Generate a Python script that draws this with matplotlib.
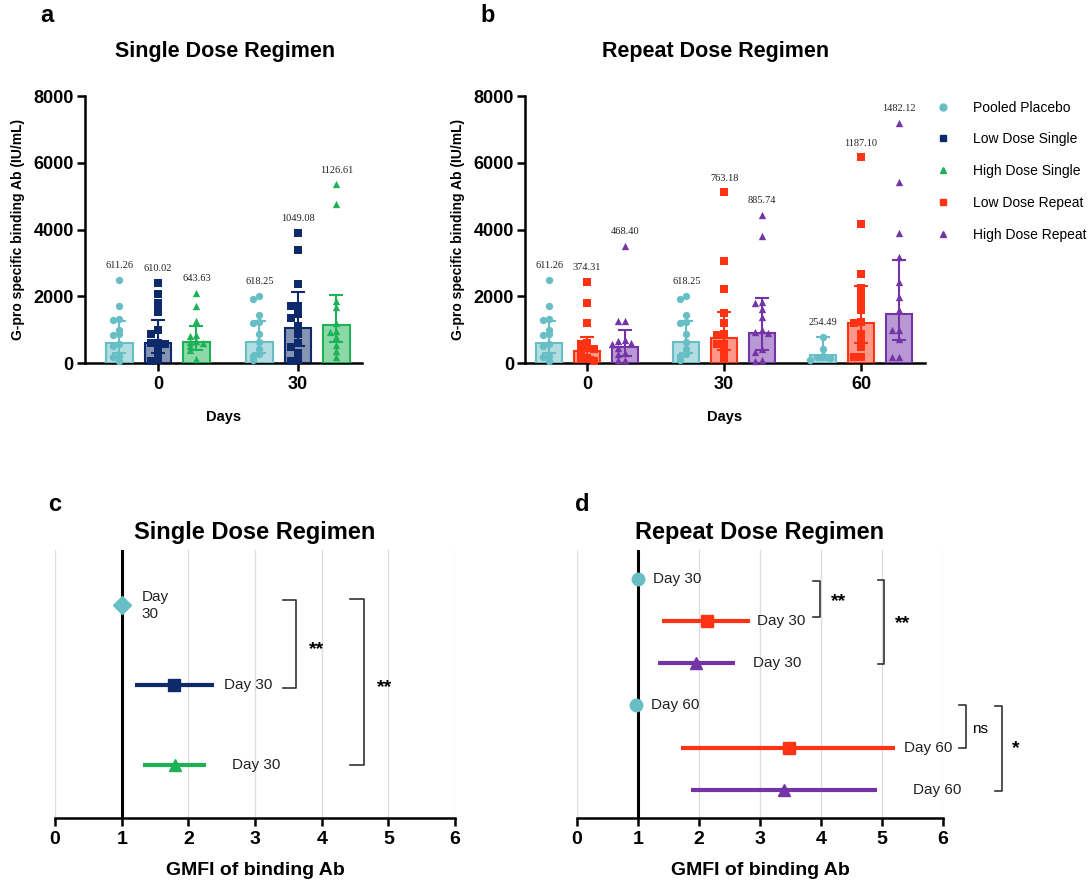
import numpy as np
import matplotlib.pyplot as plt
from matplotlib.lines import Line2D

plt.rcParams['font.family'] = ['Liberation Sans', 'DejaVu Sans']

# ---------------------------------------------------------------------------
# Data
# ---------------------------------------------------------------------------
group_names = ['Pooled Placebo', 'Low Dose Single', 'High Dose Single',
               'Low Dose Repeat', 'High Dose Repeat']
group_colors = {
    'Pooled Placebo': '#67BFC5',
    'Low Dose Single': '#0F2A6B',
    'High Dose Single': '#1DB255',
    'Low Dose Repeat': '#FF3314',
    'High Dose Repeat': '#7434A8',
}
group_markers = {
    'Pooled Placebo': 'o',
    'Low Dose Single': 's',
    'High Dose Single': '^',
    'Low Dose Repeat': 's',
    'High Dose Repeat': '^',
}

# individual values (IU/mL)
placebo_d0 = [2500, 1720, 1310, 1290, 1000, 860, 840, 560, 520, 220, 180, 50]
placebo_d30 = [2000, 1930, 1450, 1240, 1200, 860, 620, 430, 280, 200, 80]
placebo_d60 = [790, 430, 200, 180, 160, 80]
low_single_d0 = [2400, 2080, 1800, 1660, 1530, 1000, 880, 600, 590, 580, 420, 240, 90, 50]
low_single_d30 = [3900, 3380, 2360, 1720, 1700, 1460, 1340, 1110, 880, 600, 480, 300, 100, 60]
high_single_d0 = [2100, 1720, 1270, 850, 820, 650, 640, 600, 500, 400, 120]
high_single_d30 = [5350, 4760, 1870, 1680, 1200, 960, 940, 780, 530, 360, 180]
low_repeat_d0 = [2440, 1790, 1190, 600, 580, 450, 440, 420, 300, 280, 150, 130, 60]
low_repeat_d30 = [5110, 3050, 2210, 1500, 1200, 860, 840, 580, 560, 430, 280, 130]
low_repeat_d60 = [6160, 4160, 2680, 2250, 2030, 1830, 1600, 1230, 1200, 880, 720, 480, 190, 170]
high_repeat_d0 = [3520, 1260, 1250, 680, 660, 600, 560, 450, 300, 280, 100, 80]
high_repeat_d30 = [4450, 3800, 1830, 1800, 1630, 1380, 1000, 920, 900, 410, 320, 80, 70]
high_repeat_d60 = [7200, 5430, 3900, 3180, 2430, 1980, 1600, 1000, 990, 720, 190, 170]

# geometric means shown as bars + labels, and error-bar limits
single_days = ['0', '30']
single_groups = ['Pooled Placebo', 'Low Dose Single', 'High Dose Single']
single_points = [[placebo_d0, low_single_d0, high_single_d0],
                 [placebo_d30, low_single_d30, high_single_d30]]
single_gmt = [[611.26, 610.02, 643.63], [618.25, 1049.08, 1126.61]]
single_err_hi = [[1270, 1280, 1100], [1250, 2120, 2040]]
single_err_lo = [[300, 300, 380], [300, 520, 620]]

repeat_days = ['0', '30', '60']
repeat_groups = ['Pooled Placebo', 'Low Dose Repeat', 'High Dose Repeat']
repeat_points = [[placebo_d0, low_repeat_d0, high_repeat_d0],
                 [placebo_d30, low_repeat_d30, high_repeat_d30],
                 [placebo_d60, low_repeat_d60, high_repeat_d60]]
repeat_gmt = [[611.26, 374.31, 468.40], [618.25, 763.18, 885.74],
              [254.49, 1187.10, 1482.12]]
repeat_err_hi = [[1270, 780, 980], [1250, 1540, 1950], [770, 2320, 3080]]
repeat_err_lo = [[300, 180, 220], [300, 380, 400], [80, 600, 680]]

# GMFI forest data
single_gmfi_groups = ['Pooled Placebo', 'Low Dose Single', 'High Dose Single']
single_gmfi = [1.0, 1.78, 1.80]
single_gmfi_lo = [1.0, 1.20, 1.32]
single_gmfi_hi = [1.0, 2.38, 2.27]
single_gmfi_text = ['Day\n30', 'Day 30', 'Day 30']

repeat_gmfi_groups = ['Pooled Placebo', 'Low Dose Repeat', 'High Dose Repeat',
                      'Pooled Placebo', 'Low Dose Repeat', 'High Dose Repeat']
repeat_gmfi = [1.0, 2.13, 1.95, 0.96, 3.47, 3.39]
repeat_gmfi_lo = [1.0, 1.40, 1.32, 0.96, 1.71, 1.87]
repeat_gmfi_hi = [1.0, 2.84, 2.59, 0.96, 5.22, 4.92]
repeat_gmfi_text = ['Day 30', 'Day 30', 'Day 30', 'Day 60', 'Day 60', 'Day 60']

# ---------------------------------------------------------------------------
fig = plt.figure(figsize=(10.92, 8.85), dpi=100)

OFFSET = 0.275
BAR_W = 0.19


def swarm_offsets(vals, step=0.048, gap=130):
    # spread points that sit close together, like a small beeswarm
    offs = []
    placed = []
    pattern = [0, -1, 1, -2, 2, -2, 2]
    for v in vals:
        k = sum(1 for p in placed if abs(p - v) < gap)
        offs.append(pattern[min(k, len(pattern) - 1)] * step)
        placed.append(v)
    return offs


def bar_panel(ax, days, groups, points, gmt, err_hi, err_lo):
    for d in range(len(days)):
        for g, name in enumerate(groups):
            c = group_colors[name]
            x = d + (g - 1) * OFFSET
            ax.bar(x, gmt[d][g], width=BAR_W, color=c, alpha=0.5,
                   edgecolor='none', zorder=2)
            ax.bar(x, gmt[d][g], width=BAR_W, facecolor='none',
                   edgecolor=c, linewidth=1.5, zorder=3)
            ax.errorbar(x, gmt[d][g],
                        yerr=[[gmt[d][g] - err_lo[d][g]], [err_hi[d][g] - gmt[d][g]]],
                        color=c, capsize=5, elinewidth=1.5, capthick=1.5,
                        fmt='none', zorder=4)
            vals = points[d][g]
            offs = swarm_offsets(vals)
            ax.scatter(x + np.array(offs), vals, s=28, color=c,
                       marker=group_markers[name], zorder=5, clip_on=False,
                       linewidths=0)
            ax.text(x, max(vals) + 430, f'{gmt[d][g]:.2f}', ha='center',
                    va='center', fontsize=7.5, family='Liberation Serif',
                    color='#222222')
    ax.set_ylim(0, 8000)
    ax.set_yticks([0, 2000, 4000, 6000, 8000])
    ax.set_xticks(range(len(days)))
    ax.set_xticklabels(days)
    for s in ['top', 'right']:
        ax.spines[s].set_visible(False)
    for s in ['left', 'bottom']:
        ax.spines[s].set_linewidth(1.8)
    ax.tick_params(axis='both', width=1.8, length=6, labelsize=13)
    ax.tick_params(axis='y', pad=2)
    for lab in ax.get_xticklabels() + ax.get_yticklabels():
        lab.set_fontweight('bold')
    ax.set_xlabel('Days', fontsize=10.5, fontweight='bold', labelpad=12)
    ax.set_ylabel('G-pro specific binding Ab (IU/mL)', fontsize=10,
                  fontweight='bold', labelpad=6)


ax_a = fig.add_axes([0.0778, 0.5898, 0.2537, 0.3017])
bar_panel(ax_a, single_days, single_groups, single_points, single_gmt,
          single_err_hi, single_err_lo)
ax_a.set_xlim(-0.52, 1.457)

ax_b = fig.add_axes([0.4808, 0.5898, 0.3663, 0.3017])
bar_panel(ax_b, repeat_days, repeat_groups, repeat_points, repeat_gmt,
          repeat_err_hi, repeat_err_lo)
ax_b.set_xlim(-0.453, 2.467)

handles = [Line2D([], [], linestyle='none', marker=group_markers[n],
                  color=group_colors[n], markersize=5) for n in group_names]
fig.legend(handles, group_names, loc='upper left',
           bbox_to_anchor=(924 / 1092, 1 - 88 / 885), frameon=False,
           fontsize=10, handlelength=1.0, handletextpad=1.6,
           labelspacing=1.28)

fig.text(40 / 1092, 1 - 22 / 885, 'a', fontsize=17, fontweight='bold')
fig.text(480 / 1092, 1 - 22 / 885, 'b', fontsize=17, fontweight='bold')
fig.text(225 / 1092, 1 - 52 / 885, 'Single Dose Regimen', fontsize=15.5,
         fontweight='bold', ha='center', va='center')
fig.text(716 / 1092, 1 - 52 / 885, 'Repeat Dose Regimen', fontsize=15.5,
         fontweight='bold', ha='center', va='center')


# ---------------------------------------------------------------------------
def forest_panel(ax, groups, est, lo, hi, texts, text_x, title):
    n = len(groups)
    ys = np.arange(n, 0, -1)
    for xg in range(7):
        ax.axvline(xg, color='#DDDDDD', linewidth=1.0, zorder=0)
    ax.axvline(1, color='black', linewidth=2.2, zorder=1)
    for i, name in enumerate(groups):
        c = group_colors[name]
        m = group_markers[name]
        if name == 'Pooled Placebo' and n == 3:
            m = 'D'
        ax.plot([lo[i], hi[i]], [ys[i], ys[i]], color=c, linewidth=3,
                solid_capstyle='butt', zorder=2)
        ax.plot(est[i], ys[i], marker=m, color=c, markersize=9,
                linestyle='none', zorder=3, clip_on=False)
        ax.text(text_x[i], ys[i], texts[i], fontsize=11, va='center',
                ha='left', color='#222222', linespacing=1.3)
    ax.set_xlim(0, 6)
    ax.set_xticks(range(7))
    ax.set_yticks([])
    for s in ['top', 'right', 'left']:
        ax.spines[s].set_visible(False)
    ax.spines['bottom'].set_linewidth(1.8)
    ax.tick_params(axis='x', width=1.8, length=6, labelsize=14)
    for lab in ax.get_xticklabels():
        lab.set_fontweight('bold')
    ax.set_xlabel('GMFI of binding Ab', fontsize=14, fontweight='bold',
                  labelpad=10)
    ax.set_title(title, fontsize=17, fontweight='bold', pad=8)
    return ys


def bracket(ax, x0, x1, y0, y1, label, lx, ly, size=14):
    ax.plot([x0, x1, x1, x0], [y0, y0, y1, y1], color='#333333',
            linewidth=1.2, clip_on=False)
    ax.text(lx, ly, label, fontsize=size, fontweight='bold' if '*' in label else 'normal',
            ha='center', va='center', clip_on=False)


ax_c = fig.add_axes([0.0504, 0.0757, 0.3663, 0.3028])
forest_panel(ax_c, single_gmfi_groups, single_gmfi, single_gmfi_lo,
             single_gmfi_hi, single_gmfi_text, [1.3, 2.53, 2.66],
             'Single Dose Regimen')
ax_c.set_ylim(0.34, 3.69)
bracket(ax_c, 3.42, 3.61, 3.07, 1.97, '**', 3.92, 2.45)
bracket(ax_c, 4.43, 4.63, 3.08, 1.0, '**', 4.95, 1.97)

ax_d = fig.add_axes([0.5284, 0.0757, 0.3352, 0.3028])
forest_panel(ax_d, repeat_gmfi_groups, repeat_gmfi, repeat_gmfi_lo,
             repeat_gmfi_hi, repeat_gmfi_text,
             [1.25, 2.95, 2.88, 1.22, 5.36, 5.5], 'Repeat Dose Regimen')
ax_d.set_ylim(0.33, 6.68)
bracket(ax_d, 3.87, 3.99, 5.95, 5.1, '**', 4.28, 5.45)
bracket(ax_d, 4.93, 5.04, 5.98, 3.98, '**', 5.34, 4.93)
bracket(ax_d, 6.26, 6.37, 3.0, 1.98, 'ns', 6.6, 2.45, size=11)
bracket(ax_d, 6.85, 6.96, 2.98, 0.98, '*', 7.2, 1.98)

fig.text(48 / 1092, 1 - 505 / 885, 'c', fontsize=17, fontweight='bold',
         va='center')
fig.text(575 / 1092, 1 - 505 / 885, 'd', fontsize=17, fontweight='bold',
         va='center')

fig.savefig('out.png', dpi=100)
